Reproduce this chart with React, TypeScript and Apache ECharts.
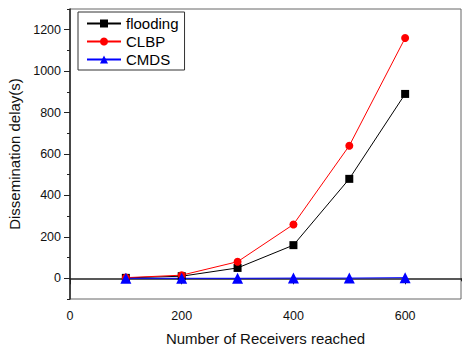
import React, { useEffect, useRef } from "react";
import * as echarts from "echarts";

const receivers = [100, 200, 300, 400, 500, 600];
const flooding = [2, 10, 50, 160, 480, 890];
const clbp = [3, 15, 80, 260, 640, 1160];
const cmds = [0, 0, 0, 1, 1, 3];
const yMajor = [0, 200, 400, 600, 800, 1000, 1200];
const yMinor = [-100, 100, 300, 500, 700, 900, 1100, 1300];
const xMajor = [0, 200, 400, 600];
const xMinor = [100, 300, 500, 700];

const FONT = "Liberation Sans, Arial, sans-serif";

export default function App() {
  const ref = useRef<HTMLDivElement>(null);
  useEffect(() => {
    const chart = echarts.init(ref.current!, null, { renderer: "svg" });
    const pair = (xs: number[], ys: number[]) => xs.map((x, i) => [x, ys[i]]);
    const plain = (v: number) => String(v);
    chart.setOption({
      animation: false,
      backgroundColor: "#fff",
      grid: {
        left: 70, top: 9, right: 1, bottom: 48, show: true, borderColor: "#666", borderWidth: 1,
        outerBoundsMode: "none", containLabel: false,
      },
      legend: {
        left: 78,
        top: 12,
        orient: "vertical",
        backgroundColor: "#fff",
        borderColor: "#333",
        borderWidth: 1,
        borderRadius: 0,
        padding: [4, 6, 3, 8],
        itemGap: 3,
        itemWidth: 34,
        itemHeight: 10,
        textStyle: { fontFamily: FONT, fontSize: 15, color: "#000" },
        data: ["flooding", "CLBP", "CMDS"],
      },
      xAxis: [
        {
          type: "value",
          min: 0,
          max: 700,
          name: "Number of Receivers reached",
          nameLocation: "middle",
          nameGap: 32,
          nameTextStyle: { fontFamily: FONT, fontSize: 15, color: "#111" },
          splitLine: { show: false },
          axisLine: { lineStyle: { color: "#222", width: 1.5 } },
          axisTick: { customValues: xMajor, length: 6, lineStyle: { color: "#222" } },
          axisLabel: { customValues: xMajor, formatter: plain, fontFamily: FONT, fontSize: 12.5, color: "#111", margin: 10 },
        },
        {
          type: "value",
          min: 0,
          max: 700,
          position: "bottom",
          splitLine: { show: false },
          axisLine: { show: false },
          axisTick: { customValues: xMinor, length: 3, lineStyle: { color: "#222" } },
          axisLabel: { show: false },
        },
      ],
      yAxis: [
        {
          type: "value",
          min: -100,
          max: 1300,
          name: "Dissemination delay(s)",
          nameLocation: "middle",
          nameGap: 46,
          nameTextStyle: { fontFamily: FONT, fontSize: 15, color: "#111" },
          splitLine: { show: false },
          axisLine: { show: true, lineStyle: { color: "#222", width: 1.5 } },
          axisTick: { show: true, customValues: yMajor, length: 6, lineStyle: { color: "#222" } },
          axisLabel: { customValues: yMajor, formatter: plain, fontFamily: FONT, fontSize: 12.5, color: "#111", margin: 9 },
        },
        {
          type: "value",
          min: -100,
          max: 1300,
          position: "left",
          splitLine: { show: false },
          axisLine: { show: false },
          axisTick: { show: true, customValues: yMinor, length: 3, lineStyle: { color: "#222" } },
          axisLabel: { show: false },
        },
      ],
      series: [
        {
          name: "flooding",
          type: "line",
          data: pair(receivers, flooding),
          symbol: "rect",
          symbolSize: 8,
          color: "#000",
          lineStyle: { width: 1, color: "#000" },
          itemStyle: { color: "#000" },
        },
        {
          name: "CLBP",
          type: "line",
          data: pair(receivers, clbp),
          symbol: "circle",
          symbolSize: 8,
          color: "#f00",
          lineStyle: { width: 1, color: "#f00" },
          itemStyle: { color: "#f00" },
        },
        {
          name: "CMDS",
          type: "line",
          data: pair(receivers, cmds),
          symbol: "triangle",
          symbolSize: 11,
          color: "#00f",
          lineStyle: { width: 1, color: "#00f" },
          itemStyle: { color: "#00f" },
        },
      ],
    });
    return () => chart.dispose();
  }, []);
  return <div ref={ref} style={{ width: 462, height: 347, position: "fixed", left: 0, top: 0 }} />;
}
